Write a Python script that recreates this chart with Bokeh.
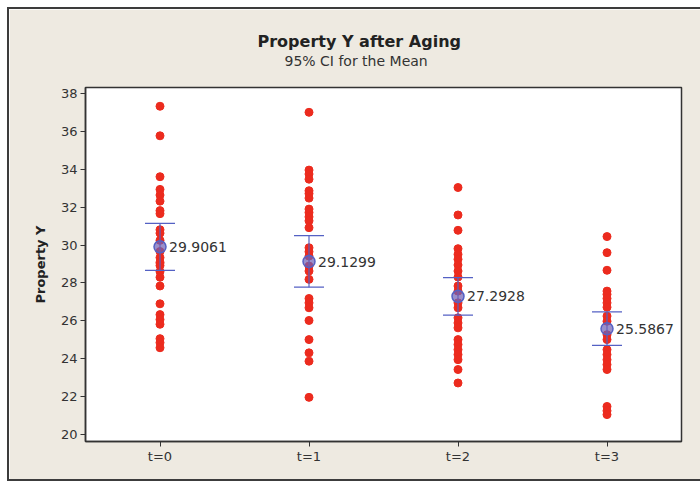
from bokeh.plotting import figure
from bokeh.models import FactorRange, Range1d, FixedTicker, Title
from bokeh.core.properties import value
from bokeh.embed import file_html
from bokeh.resources import INLINE

groups = ["t=0", "t=1", "t=2", "t=3"]
vals_t0 = [37.33, 35.77, 33.61, 32.94, 32.64, 32.32, 31.82, 31.66, 30.81, 30.63, 30.25,
           29.66, 29.34, 29.09, 28.92, 28.60, 28.30, 27.84, 26.90, 26.33, 26.07, 25.82,
           25.06, 24.85, 24.58]
vals_t1 = [37.01, 33.96, 33.75, 33.48, 32.87, 32.72, 32.48, 31.90, 31.72, 31.49, 31.28,
           30.92, 29.86, 29.65, 29.42, 28.89, 28.63, 28.19, 27.18, 26.95, 26.69, 26.02,
           25.01, 24.31, 23.87, 21.96]
vals_t2 = [33.04, 31.59, 30.78, 29.81, 29.51, 29.25, 28.95, 28.63, 28.31, 27.84, 27.57,
           26.95, 26.69, 26.16, 25.89, 25.63, 25.01, 24.75, 24.48, 24.22, 23.95, 23.43,
           22.72]
vals_t3 = [30.45, 29.60, 28.67, 27.57, 27.40, 27.18, 26.95, 26.72, 26.25, 25.98, 25.27,
           25.01, 24.48, 24.22, 23.95, 23.69, 23.43, 21.48, 21.25, 21.05]
means = [29.9061, 29.1299, 27.2928, 25.5867]
ci_lower = [28.66, 27.78, 26.30, 24.71]
ci_upper = [31.15, 30.50, 28.28, 26.47]
y_ticks = [20, 22, 24, 26, 28, 30, 32, 34, 36, 38]
title_text = "Property Y after Aging"
subtitle_text = "95% CI for the Mean"
y_label = "Property Y"

FONT = "DejaVu Sans"
BG = "#EEEAE1"

p = figure(width=693, height=474, x_range=FactorRange(*groups, range_padding=0),
           y_range=Range1d(19.63, 38.32), output_backend="svg", toolbar_location=None,
           title=None,
           background_fill_color="white", border_fill_color=BG,
           min_border_left=76, min_border_top=78, min_border_right=21, min_border_bottom=42)
p.styles = {"margin-left": "7px", "margin-top": "7px",
            "border-left": "2px solid #3c3c3c", "border-top": "2px solid #3c3c3c",
            "border-bottom": "2px solid #3c3c3c"}
p.outline_line_color = "#333333"
p.outline_line_width = 1.5
p.grid.visible = False

for ax in (p.xaxis[0], p.yaxis[0]):
    ax.axis_line_color = "#333333"
    ax.axis_line_width = 1.5
    ax.major_tick_line_color = "#333333"
    ax.major_tick_out = 5
    ax.major_tick_in = 0
    ax.minor_tick_line_color = None
    ax.major_label_text_font = FONT
    ax.major_label_text_font_size = "13px"
    ax.major_label_text_color = "#333333"

p.yaxis.ticker = FixedTicker(ticks=y_ticks)
p.yaxis.major_label_standoff = 3
p.yaxis.axis_label = y_label
p.yaxis.axis_label_text_font = FONT
p.yaxis.axis_label_text_font_style = "bold"
p.yaxis.axis_label_text_font_size = "13px"
p.yaxis.axis_label_text_color = "#222222"
p.yaxis.axis_label_standoff = 10
p.xaxis.major_label_standoff = 2

all_x, all_y = [], []
for g, vals in zip(groups, [vals_t0, vals_t1, vals_t2, vals_t3]):
    all_x += [g] * len(vals)
    all_y += vals
p.scatter(all_x, all_y, size=8, fill_color="#EC2B1E", line_color="#EC2B1E")

blue = "#5461C4"
p.segment(x0=groups, y0=ci_lower, x1=groups, y1=ci_upper, line_color=blue, line_width=1.2)
p.scatter(groups, ci_lower, marker="dash", size=30, line_color=blue, line_width=1.2)
p.scatter(groups, ci_upper, marker="dash", size=30, line_color=blue, line_width=1.2)
p.scatter(groups, means, size=12, marker="circle", line_color=blue, line_width=1.5,
          fill_color="#6F5FB5", fill_alpha=0.7)
p.text(groups, means, text=[f"{m:.4f}" for m in means], x_offset=9,
       text_font=value(FONT), text_font_size="14px", text_color="#333333",
       text_baseline="middle", text_align="left")

spacer = Title(text=" ", text_font_size="1px", standoff=16)
sub = Title(text=subtitle_text, align="left", offset=199, text_font=FONT,
            text_font_size="14px", text_font_style="normal", text_color="#333333",
            standoff=0)
main = Title(text=title_text, align="left", offset=172, text_font=FONT,
             text_font_size="16px", text_font_style="bold", text_color="#222222",
             standoff=0)
p.add_layout(spacer, "above")
p.add_layout(sub, "above")
p.add_layout(main, "above")

open("out.html", "w").write(file_html(p, INLINE))
